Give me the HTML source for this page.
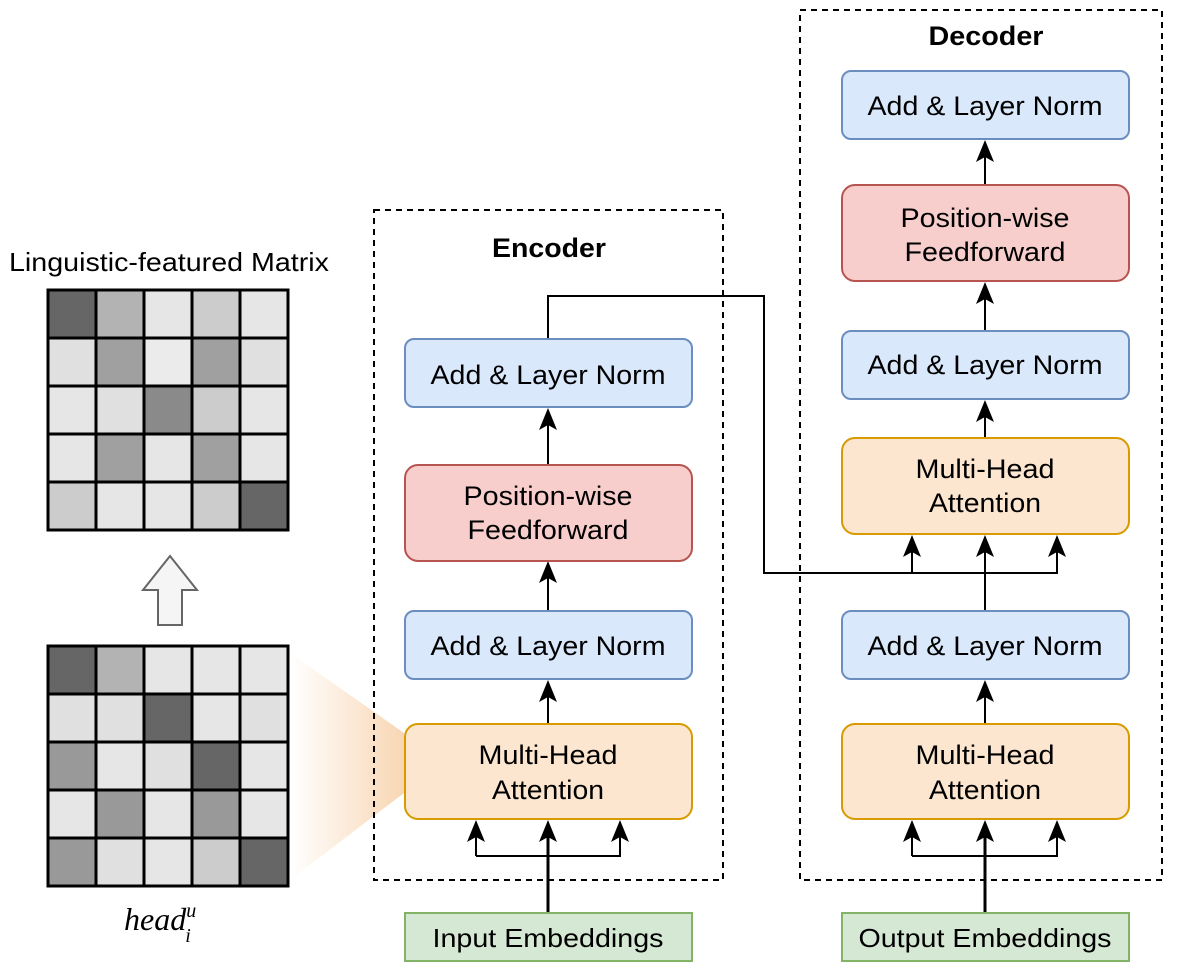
<!DOCTYPE html>
<html><head><meta charset="utf-8"><style>
body{margin:0;background:#fff}
svg text{font-family:"Liberation Sans",sans-serif;}
</style></head><body>
<svg width="1178" height="974" viewBox="0 0 1178 974" xmlns="http://www.w3.org/2000/svg">
<defs>
<linearGradient id="og" x1="0" x2="1" y1="0" y2="0">
<stop offset="0" stop-color="#f8d0a8" stop-opacity="0"/>
<stop offset="1" stop-color="#f7cfa6"/>
</linearGradient>
</defs>
<text x="169" y="271" font-size="26" text-anchor="middle" fill="#000" textLength="320" lengthAdjust="spacingAndGlyphs">Linguistic-featured Matrix</text>
<g stroke="#000" stroke-width="3">
<rect x="48" y="290" width="48" height="48" fill="#666"/><rect x="96" y="290" width="48" height="48" fill="#b3b3b3"/><rect x="144" y="290" width="48" height="48" fill="#e6e6e6"/><rect x="192" y="290" width="48" height="48" fill="#ccc"/><rect x="240" y="290" width="48" height="48" fill="#e6e6e6"/>
<rect x="48" y="338" width="48" height="48" fill="#e0e0e0"/><rect x="96" y="338" width="48" height="48" fill="#a0a0a0"/><rect x="144" y="338" width="48" height="48" fill="#ebebeb"/><rect x="192" y="338" width="48" height="48" fill="#a0a0a0"/><rect x="240" y="338" width="48" height="48" fill="#e0e0e0"/>
<rect x="48" y="386" width="48" height="48" fill="#e6e6e6"/><rect x="96" y="386" width="48" height="48" fill="#e0e0e0"/><rect x="144" y="386" width="48" height="48" fill="#8a8a8a"/><rect x="192" y="386" width="48" height="48" fill="#ccc"/><rect x="240" y="386" width="48" height="48" fill="#e6e6e6"/>
<rect x="48" y="434" width="48" height="48" fill="#e6e6e6"/><rect x="96" y="434" width="48" height="48" fill="#a0a0a0"/><rect x="144" y="434" width="48" height="48" fill="#e6e6e6"/><rect x="192" y="434" width="48" height="48" fill="#a0a0a0"/><rect x="240" y="434" width="48" height="48" fill="#e6e6e6"/>
<rect x="48" y="482" width="48" height="48" fill="#ccc"/><rect x="96" y="482" width="48" height="48" fill="#e6e6e6"/><rect x="144" y="482" width="48" height="48" fill="#e6e6e6"/><rect x="192" y="482" width="48" height="48" fill="#ccc"/><rect x="240" y="482" width="48" height="48" fill="#666"/>
</g>
<polygon points="158,625 182,625 182,590 197,590 170,556 143,590 158,590" fill="#f5f5f5" stroke="#666" stroke-width="2"/>
<polygon points="290,653 404,733 404,793 290,880" fill="url(#og)" opacity="0.85"/>
<g stroke="#000" stroke-width="3">
<rect x="48" y="646" width="48" height="48" fill="#666"/><rect x="96" y="646" width="48" height="48" fill="#b3b3b3"/><rect x="144" y="646" width="48" height="48" fill="#e6e6e6"/><rect x="192" y="646" width="48" height="48" fill="#e6e6e6"/><rect x="240" y="646" width="48" height="48" fill="#e6e6e6"/>
<rect x="48" y="694" width="48" height="48" fill="#e0e0e0"/><rect x="96" y="694" width="48" height="48" fill="#e0e0e0"/><rect x="144" y="694" width="48" height="48" fill="#666"/><rect x="192" y="694" width="48" height="48" fill="#e6e6e6"/><rect x="240" y="694" width="48" height="48" fill="#e0e0e0"/>
<rect x="48" y="742" width="48" height="48" fill="#999"/><rect x="96" y="742" width="48" height="48" fill="#e6e6e6"/><rect x="144" y="742" width="48" height="48" fill="#e0e0e0"/><rect x="192" y="742" width="48" height="48" fill="#666"/><rect x="240" y="742" width="48" height="48" fill="#e6e6e6"/>
<rect x="48" y="790" width="48" height="48" fill="#e6e6e6"/><rect x="96" y="790" width="48" height="48" fill="#999"/><rect x="144" y="790" width="48" height="48" fill="#e6e6e6"/><rect x="192" y="790" width="48" height="48" fill="#999"/><rect x="240" y="790" width="48" height="48" fill="#e6e6e6"/>
<rect x="48" y="838" width="48" height="48" fill="#999"/><rect x="96" y="838" width="48" height="48" fill="#e0e0e0"/><rect x="144" y="838" width="48" height="48" fill="#e6e6e6"/><rect x="192" y="838" width="48" height="48" fill="#ccc"/><rect x="240" y="838" width="48" height="48" fill="#666"/>
</g>
<text x="124" y="930" font-size="32" font-style="italic" style="font-family:'Liberation Serif',serif">head<tspan font-size="20" dy="-13">u</tspan><tspan font-size="20" dx="-11" dy="25">i</tspan></text>

<rect x="374" y="210" width="349" height="670" fill="none" stroke="#000" stroke-width="2" stroke-dasharray="6,5"/>
<rect x="800" y="10" width="362" height="870" fill="none" stroke="#000" stroke-width="2" stroke-dasharray="6,5"/>
<text x="549" y="257" font-size="27" font-weight="bold" text-anchor="middle" textLength="114" lengthAdjust="spacingAndGlyphs">Encoder</text>
<text x="986" y="45" font-size="27" font-weight="bold" text-anchor="middle" textLength="115" lengthAdjust="spacingAndGlyphs">Decoder</text>

<g stroke="#000" stroke-width="2" fill="none">
<path d="M548,339 V296 H764 V573 H1057 V545"/>
<path d="M912,573 V545"/>
<path d="M985,611 V545"/>
<path d="M548,612 V572"/><path d="M548,465 V420"/>
<path d="M548,724 V690"/>
<path d="M985,724 V690"/><path d="M985,438 V410"/><path d="M985,331 V290"/><path d="M985,185 V150"/>
<path d="M476,856 H620 V830"/><path d="M476,856 V830"/>
<path d="M912,856 H1057 V830"/><path d="M912,856 V830"/>
</g>
<path d="M548,913 V830 M985,913 V830" stroke="#000" stroke-width="3"/>
<g fill="#000">
<polygon points="548,561 539,583 548,578 557,583"/>
<polygon points="548,408 539,430 548,425 557,430"/>
<polygon points="548,680 539,702 548,697 557,702"/>
<polygon points="476,820 467,842 476,837 485,842"/>
<polygon points="548,820 539,842 548,837 557,842"/>
<polygon points="620,820 611,842 620,837 629,842"/>
<polygon points="912,820 903,842 912,837 921,842"/>
<polygon points="985,820 976,842 985,837 994,842"/>
<polygon points="1057,820 1048,842 1057,837 1066,842"/>
<polygon points="985,680 976,702 985,697 994,702"/>
<polygon points="912,535 903,557 912,552 921,557"/>
<polygon points="985,535 976,557 985,552 994,557"/>
<polygon points="1057,535 1048,557 1057,552 1066,557"/>
<polygon points="985,400 976,422 985,417 994,422"/>
<polygon points="985,282 976,304 985,299 994,304"/>
<polygon points="985,140 976,162 985,157 994,162"/>
</g>

<g stroke-width="2">
<rect x="405" y="339" width="287" height="68" rx="9" fill="#dae8fc" stroke="#6c8ebf"/>
<rect x="405" y="465" width="287" height="96" rx="13" fill="#f8cecc" stroke="#b85450"/>
<rect x="405" y="611" width="287" height="68" rx="9" fill="#dae8fc" stroke="#6c8ebf"/>
<rect x="405" y="724" width="287" height="95" rx="13" fill="#fce6cf" stroke="#d79b00"/>
<rect x="405" y="913" width="287" height="48" fill="#d5e8d4" stroke="#82b366"/>
<rect x="842" y="71" width="287" height="68" rx="9" fill="#dae8fc" stroke="#6c8ebf"/>
<rect x="842" y="185" width="287" height="96" rx="13" fill="#f8cecc" stroke="#b85450"/>
<rect x="842" y="331" width="287" height="68" rx="9" fill="#dae8fc" stroke="#6c8ebf"/>
<rect x="842" y="438" width="287" height="96" rx="13" fill="#fce6cf" stroke="#d79b00"/>
<rect x="842" y="611" width="287" height="68" rx="9" fill="#dae8fc" stroke="#6c8ebf"/>
<rect x="842" y="724" width="287" height="95" rx="13" fill="#fce6cf" stroke="#d79b00"/>
<rect x="842" y="913" width="287" height="48" fill="#d5e8d4" stroke="#82b366"/>
</g>
<g font-size="27" text-anchor="middle" fill="#000" lengthAdjust="spacingAndGlyphs">
<text x="548" y="384" textLength="235" lengthAdjust="spacingAndGlyphs">Add &amp; Layer Norm</text>
<text x="548" y="505" textLength="169" lengthAdjust="spacingAndGlyphs">Position-wise</text><text x="548" y="539" textLength="161" lengthAdjust="spacingAndGlyphs">Feedforward</text>
<text x="548" y="655" textLength="235" lengthAdjust="spacingAndGlyphs">Add &amp; Layer Norm</text>
<text x="548" y="764" textLength="139" lengthAdjust="spacingAndGlyphs">Multi-Head</text><text x="548" y="799" textLength="112" lengthAdjust="spacingAndGlyphs">Attention</text>
<text x="548" y="947" font-size="26" textLength="231" lengthAdjust="spacingAndGlyphs">Input Embeddings</text>
<text x="985" y="115" textLength="235" lengthAdjust="spacingAndGlyphs">Add &amp; Layer Norm</text>
<text x="985" y="227" textLength="169" lengthAdjust="spacingAndGlyphs">Position-wise</text><text x="985" y="261" textLength="161" lengthAdjust="spacingAndGlyphs">Feedforward</text>
<text x="985" y="374" textLength="235" lengthAdjust="spacingAndGlyphs">Add &amp; Layer Norm</text>
<text x="985" y="478" textLength="139" lengthAdjust="spacingAndGlyphs">Multi-Head</text><text x="985" y="512" textLength="112" lengthAdjust="spacingAndGlyphs">Attention</text>
<text x="985" y="655" textLength="235" lengthAdjust="spacingAndGlyphs">Add &amp; Layer Norm</text>
<text x="985" y="764" textLength="139" lengthAdjust="spacingAndGlyphs">Multi-Head</text><text x="985" y="799" textLength="112" lengthAdjust="spacingAndGlyphs">Attention</text>
<text x="985" y="947" font-size="26" textLength="253" lengthAdjust="spacingAndGlyphs">Output Embeddings</text>
</g>
</svg>
</body></html>
